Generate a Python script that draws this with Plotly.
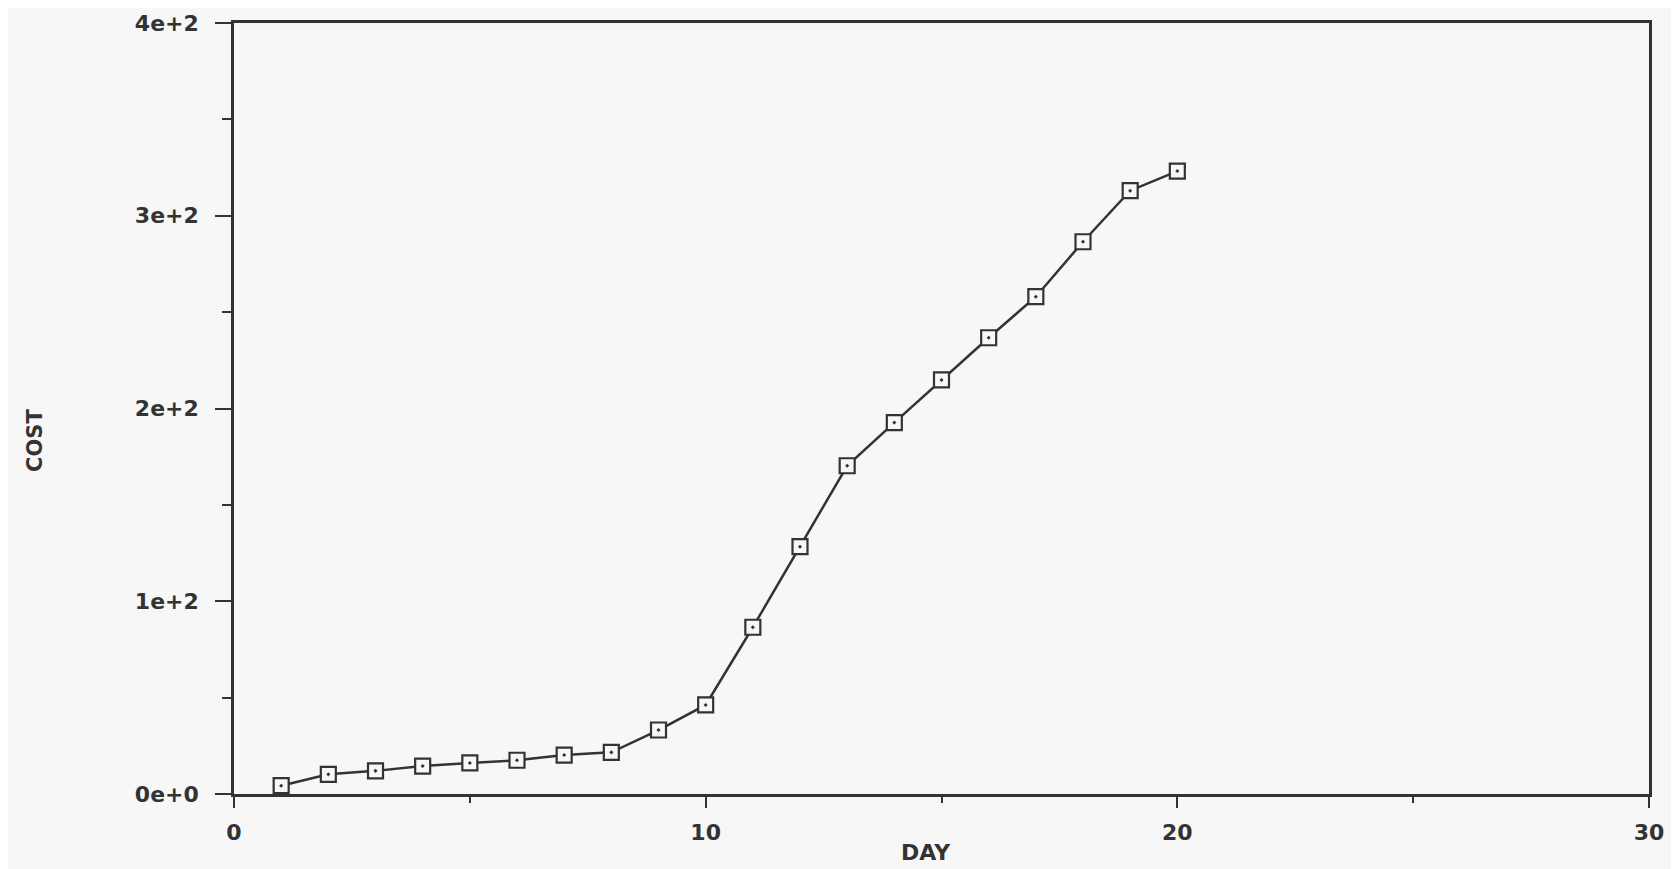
import plotly.graph_objects as go

days = list(range(1, 21))
cost = [4.3, 10.2, 12.0, 14.5, 16.1, 17.5, 20.2, 21.6, 33.2, 46.2,
        86.5, 128.3, 170.3, 192.7, 214.8, 236.7, 258.0, 286.5, 313.0, 323.2]

x_tickvals = [0, 10, 20, 30]
x_ticktext = ["0", "10", "20", "30"]
x_minor = [5, 15, 25]
y_tickvals = [0, 100, 200, 300, 400]
y_ticktext = ["0e+0", "1e+2", "2e+2", "3e+2", "4e+2"]
y_minor = [50, 150, 250, 350]

ink = "#333333"
bg = "#f7f7f7"
font_family = "DejaVu Sans"

fig = go.Figure()
fig.add_trace(go.Scatter(
    x=days, y=cost, mode="lines+markers",
    line=dict(color=ink, width=2.5),
    marker=dict(symbol="square-dot", size=15, color=bg,
                line=dict(color=ink, width=2.2)),
    showlegend=False,
))

fig.update_layout(
    width=1679, height=869,
    margin=dict(l=226, r=38, t=15, b=83),
    paper_bgcolor=bg, plot_bgcolor=bg,
    font=dict(family=font_family, color=ink),
    annotations=[
        dict(text="<b>DAY</b>", xref="paper", yref="paper", x=0.489, y=-0.0765,
             showarrow=False, font=dict(size=22, color=ink, family=font_family),
             xanchor="center", yanchor="middle"),
        dict(text="<b>COST</b>", xref="paper", yref="paper", x=-0.1406, y=0.458,
             showarrow=False, textangle=-90,
             font=dict(size=21, color=ink, family=font_family),
             xanchor="center", yanchor="middle"),
    ],
)

fig.update_xaxes(
    range=[0, 30], showgrid=False, zeroline=False, automargin=False,
    showline=True, linecolor=ink, linewidth=2.5, mirror=True,
    tickmode="array", tickvals=x_tickvals, ticktext=x_ticktext,
    ticks="outside", ticklen=11, tickwidth=2, tickcolor=ink,
    ticklabelstandoff=6,
    tickfont=dict(size=22, color=ink, family=font_family, weight="bold"),
    minor=dict(tickmode="array", tickvals=x_minor, ticks="outside",
               ticklen=6, tickwidth=2, tickcolor=ink),
)
fig.update_yaxes(
    range=[0, 400], showgrid=False, zeroline=False, automargin=False,
    showline=True, linecolor=ink, linewidth=2.5, mirror=True,
    tickmode="array", tickvals=y_tickvals, ticktext=y_ticktext,
    ticks="outside", ticklen=16, tickwidth=2, tickcolor=ink,
    ticklabelstandoff=12,
    tickfont=dict(size=22, color=ink, family=font_family, weight="bold"),
    minor=dict(tickmode="array", tickvals=y_minor, ticks="outside",
               ticklen=9, tickwidth=2, tickcolor=ink),
)

fig.write_html("out.html")
